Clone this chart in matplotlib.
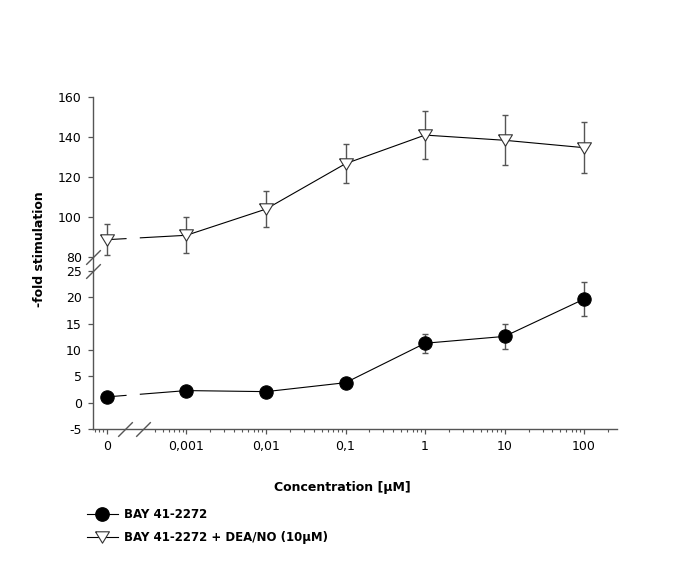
import numpy as np
import matplotlib
matplotlib.use('Agg')
import matplotlib.pyplot as plt
from matplotlib.lines import Line2D
from matplotlib.ticker import FixedLocator, NullFormatter

# concentration in uM, 0 is the control (drawn one decade left of 0,001)
conc = [0, 0.001, 0.01, 0.1, 1, 10, 100]
conc_labels = ['0', '0,001', '0,01', '0,1', '1', '10', '100']

bay = [1.1, 2.3, 2.1, 3.8, 11.3, 12.6, 19.7]
bay_err = [0.5, 0.6, 0.5, 0.7, 1.8, 2.4, 3.3]

dea = [88.5, 90.7, 103.8, 126.5, 140.8, 138.2, 134.5]
dea_err = [7.7, 9.0, 8.9, 9.8, 12.2, 12.5, 12.7]

y_ticks = [-5, 0, 5, 10, 15, 20, 25, 80, 100, 120, 140, 160]

label_bay = 'BAY 41-2272'
label_dea = 'BAY 41-2272 + DEA/NO (10µM)'

zero_pos = 1e-4
gap_lo, gap_hi = 10 ** -3.76, 10 ** -3.58

# broken y axis: -5..25 stretched, 80..160 compressed
yp = [-100, -5, 25, 80, 160, 400]
fp = [-499.7, 0, 157.8, 172.3, 332.3, 812.3]


def fwd(v):
    return np.interp(v, yp, fp)


def inv(v):
    return np.interp(v, fp, yp)


x = np.array([zero_pos if c == 0 else c for c in conc])

# slightly flattened down-pointing triangle
tri = [(-1, 0.82), (1, 0.82), (0, -0.82), (-1, 0.82)]

fig = plt.figure(figsize=(6.85, 5.87), dpi=100)
ax = fig.add_axes([0.1358, 0.2692, 0.7645, 0.5661])
ax.set_xscale('log')
ax.set_yscale('function', functions=(fwd, inv))

gray = '#555555'


def draw_series(y, err, marker, face, ms):
    y = np.array(y)
    ax.errorbar(x, y, yerr=err, fmt='none', ecolor=gray, elinewidth=1,
                capsize=2.4, capthick=1, zorder=1)
    lx = np.log10(x)
    t0 = (np.log10(gap_lo) - lx[0]) / (lx[1] - lx[0])
    t1 = (np.log10(gap_hi) - lx[0]) / (lx[1] - lx[0])
    ax.plot([x[0], gap_lo], [y[0], y[0] + (y[1] - y[0]) * t0], color='k', lw=0.8, zorder=2)
    ax.plot([gap_hi, x[1]], [y[0] + (y[1] - y[0]) * t1, y[1]], color='k', lw=0.8, zorder=2)
    ax.plot(x[1:], y[1:], color='k', lw=0.8, zorder=2)
    ax.plot(x, y, linestyle='none', marker=marker, ms=ms, mfc=face,
            mec='k' if face == 'k' else '#333333', mew=0.8, zorder=3)


draw_series(dea, dea_err, tri, 'white', 10)
draw_series(bay, bay_err, 'o', 'k', 9.6)

ax.set_xlim(10 ** -4.175, 10 ** 2.41)
ax.set_ylim(-5, 160)

ax.xaxis.set_major_locator(FixedLocator(list(x)))
ax.set_xticklabels(conc_labels)
minor = [7e-5, 8e-5, 9e-5] + [k * 1e-4 for k in range(4, 10)]
for e in range(-3, 3):
    minor += [k * 10.0 ** e for k in range(2, 10)]
ax.xaxis.set_minor_locator(FixedLocator(minor))
ax.xaxis.set_minor_formatter(NullFormatter())

ax.set_yticks(y_ticks)
ax.set_yticklabels([str(t) for t in y_ticks])

for side in ['top', 'right']:
    ax.spines[side].set_visible(False)
for side in ['left', 'bottom']:
    ax.spines[side].set_color(gray)
    ax.spines[side].set_linewidth(1)

ax.tick_params(axis='both', which='major', direction='out', length=3.5, width=0.9,
               color=gray, labelsize=9, pad=4.5)
ax.tick_params(axis='x', which='minor', direction='out', length=2.5, width=0.8, color=gray)

# break marks
brk = dict(marker=[(-1, -1), (1, 1)], markersize=10.5, linestyle='none',
           color=gray, mec=gray, mew=1, clip_on=False, zorder=5)
ax.plot([10 ** -3.774, 10 ** -3.545], [0, 0], transform=ax.get_xaxis_transform(), **brk)
ax.plot([0, 0], [80, 25], transform=ax.get_yaxis_transform(), **brk)

ax.set_ylabel('-fold stimulation', fontsize=9, fontweight='bold')
ax.yaxis.set_label_coords(-0.09, 0.54)
fig.text(0.5, 1 - 488 / 587, 'Concentration [µM]', fontsize=9, fontweight='bold',
         ha='center', va='center')

handles = [
    Line2D([], [], color='k', lw=0.8, marker='o', ms=9.6, mfc='k', mec='k'),
    Line2D([], [], color='k', lw=0.8, marker=tri, ms=10, mfc='white', mec='#333333', mew=0.8),
]
fig.legend(handles, [label_bay, label_dea], loc='center left',
           bbox_to_anchor=(0.127, 1 - 526 / 587), frameon=False,
           prop={'size': 8.5, 'weight': 'bold'}, handlelength=2.6,
           handletextpad=0.55, labelspacing=0.85, borderpad=0, borderaxespad=0)

fig.savefig('out.png', dpi=100)
